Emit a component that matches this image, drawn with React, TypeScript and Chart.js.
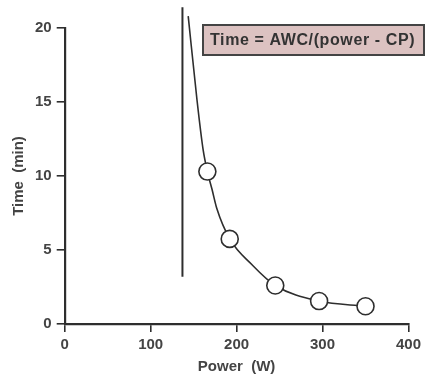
import React, { useEffect, useRef } from "react";
import { Chart, registerables } from "chart.js";

Chart.register(...registerables);

// Measured points (power W, time min)
const powerPoints = [166, 192, 245, 296, 350];
const timePoints = [10.3, 5.75, 2.6, 1.55, 1.2];

// Fitted hyperbola
const curvePower = [143.7, 154, 161, 166, 171.4, 177, 192, 218, 245, 296, 350];
const curveTime = [20.8, 15.1, 11.8, 10.3, 9.1, 7.8, 5.75, 4.0, 2.6, 1.55, 1.2];

// Critical power asymptote
const cpPower = [137, 137];
const cpTime = [3.2, 21.4];

const xTicks = [0, 100, 200, 300, 400];
const yTicks = [0, 5, 10, 15, 20];

const equationLabel = "Time = AWC/(power - CP)";
const xTitle = "Power  (W)";
const yTitle = "Time  (min)";

const INK = "#2e2e2e";
const FONT = "'Liberation Sans', Arial, sans-serif";

const boxPlugin = {
  id: "eqBox",
  afterDraw(chart: any) {
    const ctx = chart.ctx as CanvasRenderingContext2D;
    ctx.save();
    ctx.fillStyle = "#dcc2c1";
    ctx.fillRect(203, 25, 221, 30);
    ctx.strokeStyle = "#444";
    ctx.lineWidth = 2;
    ctx.strokeRect(203, 25, 221, 30);
    ctx.fillStyle = "#333";
    ctx.font = "bold 16px " + FONT;
    try {
      (ctx as any).letterSpacing = "0.6px";
    } catch (e) {}
    ctx.textBaseline = "middle";
    ctx.textAlign = "left";
    ctx.fillText(equationLabel, 210, 41);
    ctx.restore();
  },
};

export default function App() {
  const ref = useRef<HTMLCanvasElement | null>(null);
  useEffect(() => {
    document.body.style.margin = "0";
    const canvas = ref.current!;
    const tickFont = { family: FONT, size: 15, weight: "bold" as const };
    const chart = new Chart(canvas, {
      type: "scatter",
      data: {
        datasets: [
          {
            label: "measured",
            data: powerPoints.map((p, i) => ({ x: p, y: timePoints[i] })),
            pointRadius: 8.5,
            pointBorderWidth: 1.6,
            pointBackgroundColor: "#ffffff",
            pointBorderColor: INK,
            showLine: false,
            order: 0,
          },
          {
            label: "curve",
            data: curvePower.map((p, i) => ({ x: p, y: curveTime[i] })),
            showLine: true,
            pointRadius: 0,
            borderColor: INK,
            borderWidth: 1.6,
            cubicInterpolationMode: "monotone",
            clip: false as any,
            order: 1,
          },
          {
            label: "cp",
            data: cpPower.map((p, i) => ({ x: p, y: cpTime[i] })),
            showLine: true,
            pointRadius: 0,
            borderColor: INK,
            borderWidth: 2,
            clip: false as any,
            order: 2,
          },
        ],
      },
      options: {
        animation: false,
        responsive: false,
        maintainAspectRatio: false,
        layout: { padding: { top: 28, right: 14.3, left: 0, bottom: 0 } },
        plugins: { legend: { display: false }, tooltip: { enabled: false } },
        scales: {
          x: {
            type: "linear",
            min: 0,
            max: 400,
            afterBuildTicks: (s: any) => {
              s.ticks = xTicks.map((v) => ({ value: v }));
            },
            afterFit: (s: any) => {
              s.height = 54;
            },
            grid: { drawOnChartArea: false, drawTicks: true, tickLength: 8, color: INK, lineWidth: 1.6 },
            border: { display: true, color: INK, width: 2.2 },
            ticks: { color: "#444", font: tickFont, padding: 4, maxRotation: 0 },
            title: {
              display: true,
              text: xTitle,
              color: "#444",
              font: { family: FONT, size: 15, weight: "bold" },
              padding: { top: 0, bottom: 2 },
            },
          },
          y: {
            type: "linear",
            min: 0,
            max: 20,
            afterBuildTicks: (s: any) => {
              s.ticks = yTicks.map((v) => ({ value: v }));
            },
            afterFit: (s: any) => {
              s.width = 64.7;
            },
            grid: { drawOnChartArea: false, drawTicks: true, tickLength: 8, color: INK, lineWidth: 1.6 },
            border: { display: true, color: INK, width: 2.2 },
            ticks: { color: "#444", font: tickFont, padding: 5 },
            title: {
              display: true,
              text: yTitle,
              color: "#444",
              font: { family: FONT, size: 15, weight: "bold" },
              padding: { top: 10, bottom: 0 },
            },
          },
        },
      },
      plugins: [boxPlugin],
    });
    return () => chart.destroy();
  }, []);
  return (
    <div style={{ width: 425, height: 378, background: "#fff" }}>
      <canvas ref={ref} width={425} height={378} style={{ display: "block" }} />
    </div>
  );
}
